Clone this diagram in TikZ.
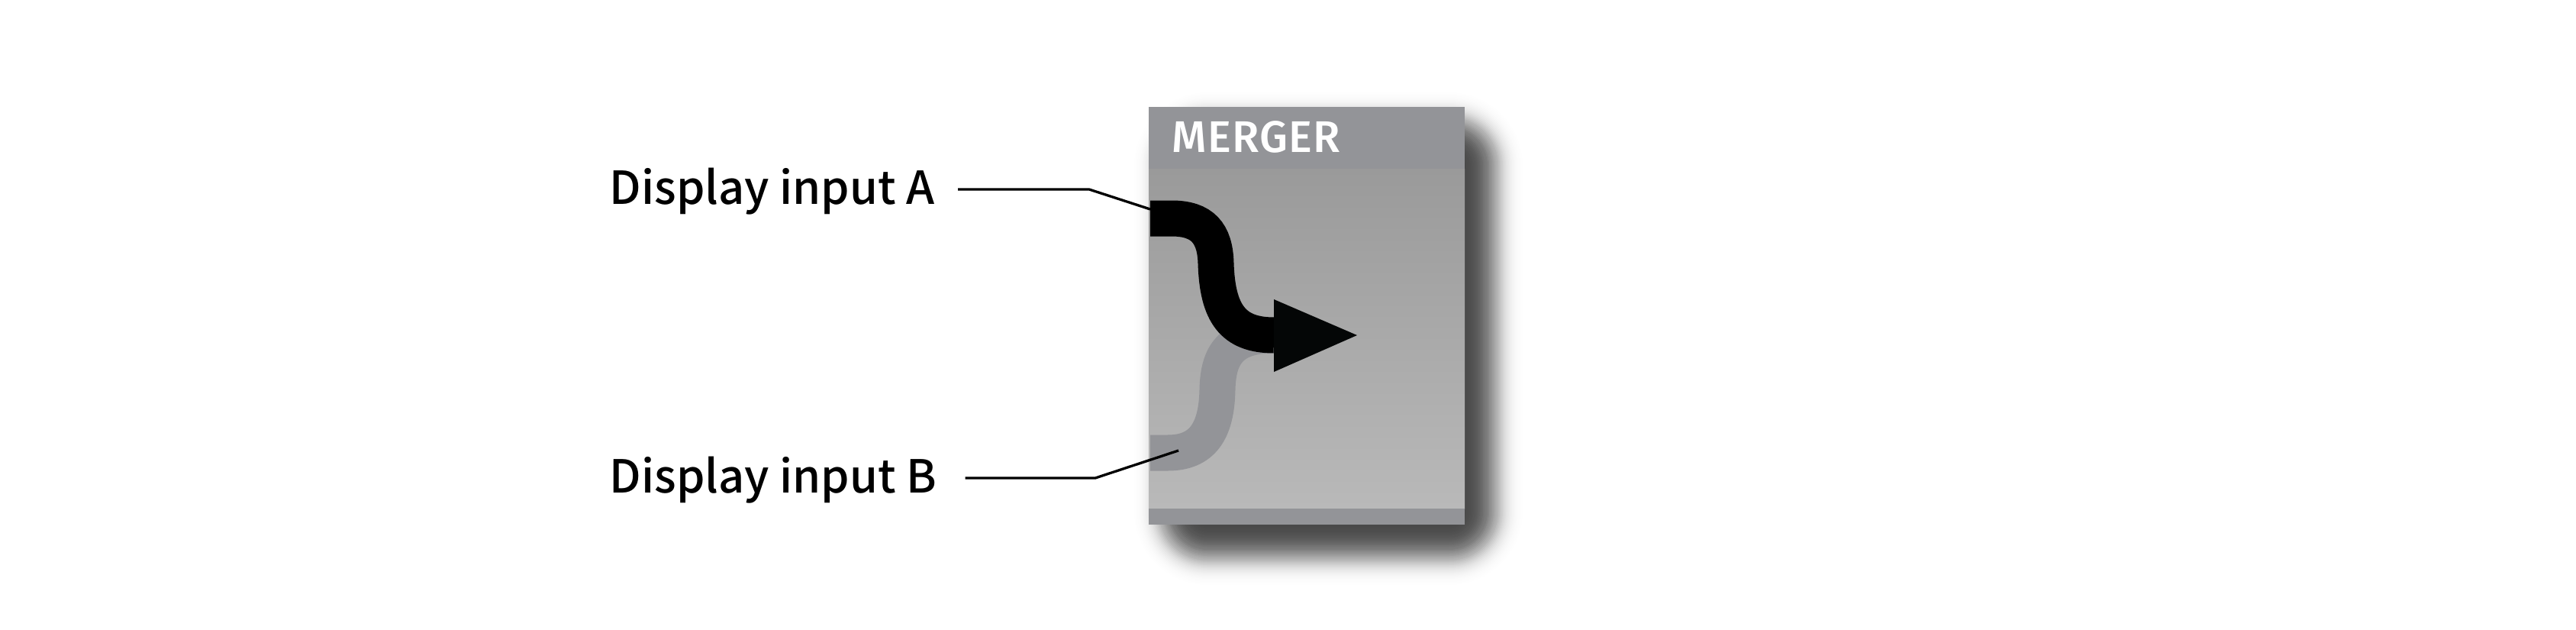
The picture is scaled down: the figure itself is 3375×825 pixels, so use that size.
\documentclass[tikz,border=0pt]{standalone}
\usepackage{fontspec}
\newfontfamily\labelfont{Noto Sans CJK SC Medium}
\newfontfamily\titlefont{Fira Sans Medium}[LetterSpace=2]
\usetikzlibrary{calc}
\definecolor{framegray}{HTML}{939498}
\definecolor{bodytop}{HTML}{9A9A9A}
\definecolor{bodybottom}{HTML}{B9B9B9}
\definecolor{arrowblack}{HTML}{040606}
\tikzset{
  labeltext/.style={anchor=base west, inner ysep=0pt, inner xsep=0pt, font=\labelfont\fontsize{16.95}{18}\selectfont},
  leader/.style={draw=black, line width=0.33mm},
  strand/.style={line width=4.7mm}
}
\begin{document}
\begin{tikzpicture}[x=0.1mm, y=-0.1mm]
    \useasboundingbox (0,0) rectangle (3375,825);
    \fill[white] (0,0) rectangle (3375,825);
    % soft shadow
    \foreach \i [evaluate=\i as \rad using (\i+52)*0.1, evaluate=\i as \op using 0.0487*exp(-\i*\i/648)] in {-50,-48,...,50} {
      \fill[black, opacity=\op, rounded corners=\rad mm] (1530-\i,165-\i) rectangle (1951+\i,722+\i);
    }
    % panel
    \shade[top color=bodytop, bottom color=bodybottom] (1505,221) rectangle (1919,666);
    \fill[framegray] (1505,140) rectangle (1919,221);
    \fill[framegray] (1505,666) rectangle (1919,687);
    \node[anchor=base west, inner sep=0pt, text=white, font=\titlefont\fontsize{16.5}{18}\selectfont] (title) at (1535,200) {MERGER};
    % strands
    \coordinate (sourceA) at (1507,286);
    \coordinate (sourceB) at (1507,593);
    \coordinate (joint) at (1669,439);
    \draw[strand, framegray] (sourceB) -- (1530,593) .. controls (1575,593) and (1594,565) .. (1595,510) .. controls (1596,465) and (1612,439) .. (joint);
    \draw[strand, black] (sourceA) -- (1535,286) .. controls (1575,286) and (1592,305) .. (1593,345) .. controls (1595,410) and (1615,439) .. (joint);
    \fill[arrowblack] (1669,392) -- (1778,439) -- (1669,487) -- cycle;
    % labels
    \node[labeltext] (labelA) at (798,268) {Display input A};
    \node[labeltext] (labelB) at (798,645) {Display input B};
    \coordinate (bendA) at (1427,248);
    \coordinate (bendB) at (1435,626);
    \coordinate (tipA) at (1507,274);
    \coordinate (tipB) at (1544,590);
    \draw[leader] ($(labelA.east |- bendA)+(30,0)$) -- (bendA) -- (tipA);
    \draw[leader] ($(labelB.east |- bendB)+(37,0)$) -- (bendB) -- (tipB);
  \end{tikzpicture}
\end{document}
